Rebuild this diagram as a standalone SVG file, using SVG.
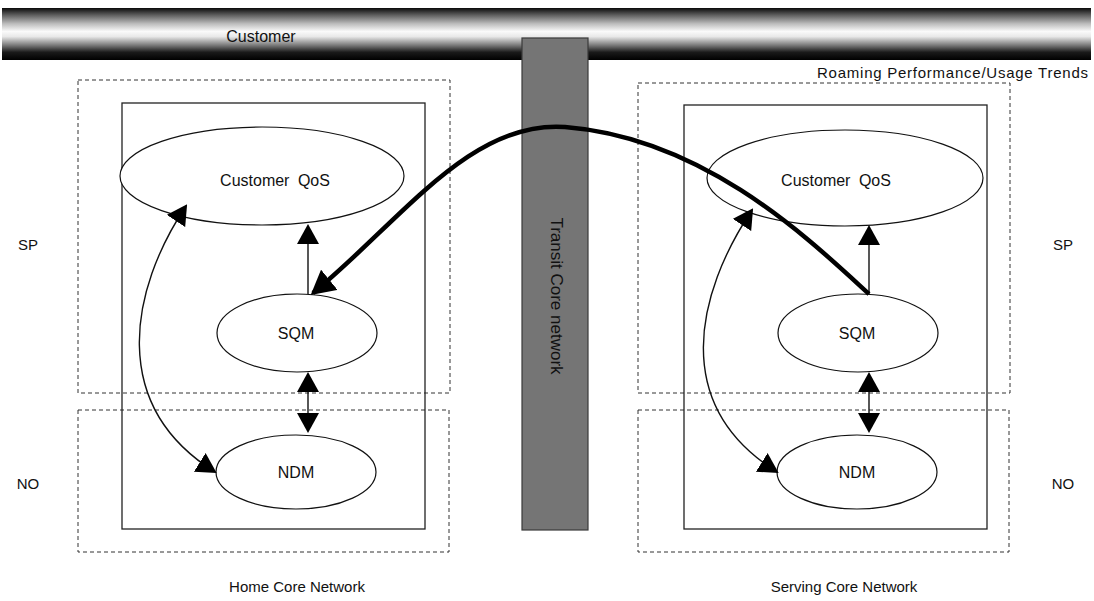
<svg xmlns="http://www.w3.org/2000/svg" width="1094" height="601" viewBox="0 0 1094 601">
<style>
text{font-family:"Liberation Sans",Arial,sans-serif;fill:#111}
.lbl{font-size:16px;text-anchor:middle;word-spacing:4px}
.side{font-size:15px;text-anchor:middle}
.dash{fill:none;stroke:#333;stroke-width:1;stroke-dasharray:4 3}
.box{fill:none;stroke:#222;stroke-width:1.3}
.ell{fill:#fff;stroke:#111;stroke-width:1.2}
.thin{fill:none;stroke:#111;stroke-width:1.4}
.thick{fill:none;stroke:#000;stroke-width:4.5}
</style>
<defs>
<linearGradient id="barG" x1="0" y1="0" x2="0" y2="1">
<stop offset="0" stop-color="#0a0a0a"/>
<stop offset="0.12" stop-color="#555"/>
<stop offset="0.3" stop-color="#bbb"/>
<stop offset="0.45" stop-color="#fafafa"/>
<stop offset="0.55" stop-color="#e8e8e8"/>
<stop offset="0.72" stop-color="#777"/>
<stop offset="0.85" stop-color="#1a1a1a"/>
<stop offset="1" stop-color="#000"/>
</linearGradient>
<marker id="ah" markerUnits="userSpaceOnUse" markerWidth="20" markerHeight="22" refX="18" refY="11" orient="auto-start-reverse" viewBox="0 0 20 22">
<path d="M0,0 L20,11 L0,22 Z" fill="#000"/>
</marker>
<marker id="ahBig" markerUnits="userSpaceOnUse" markerWidth="24" markerHeight="26" refX="21" refY="13" orient="auto" viewBox="0 0 24 26">
<path d="M0,0 L24,13 L0,26 Z" fill="#000"/>
</marker>
</defs>
<rect width="1094" height="601" fill="#fff"/>

<g id="customer-bar">
<rect x="2" y="8" width="1089" height="52" fill="url(#barG)"/>
<text x="261" y="42" font-size="16" text-anchor="middle">Customer</text>
</g>

<g id="transit-core">
<rect x="522" y="38" width="66" height="492" fill="#757575" stroke="#3a3a3a" stroke-width="1.2"/>
<text transform="translate(551,296) rotate(90)" font-size="17" text-anchor="middle" fill="#1a1a1a">Transit Core network</text>
</g>

<g id="trend-label">
<text x="1088" y="78" font-size="15" text-anchor="end" textLength="271" lengthAdjust="spacing">Roaming Performance/Usage Trends</text>
</g>

<g id="home-sp">
<rect class="dash" x="78" y="80" width="372" height="313"/>
</g>
<g id="home-no">
<rect class="dash" x="78" y="410" width="371" height="142"/>
</g>
<g id="home-core">
<rect class="box" x="122" y="103" width="303" height="426"/>
<text class="side" x="297" y="592">Home Core Network</text>
</g>
<g id="home-qos">
<ellipse class="ell" cx="262" cy="176" rx="142" ry="49"/>
<text class="lbl" x="275" y="186">Customer QoS</text>
</g>
<g id="home-sqm">
<ellipse class="ell" cx="297" cy="333" rx="80" ry="39"/>
<text class="lbl" x="296" y="339">SQM</text>
</g>
<g id="home-ndm">
<ellipse class="ell" cx="296" cy="472" rx="80" ry="37"/>
<text class="lbl" x="296" y="478">NDM</text>
</g>

<g id="serv-sp">
<rect class="dash" x="638" y="83" width="372" height="310"/>
</g>
<g id="serv-no">
<rect class="dash" x="638" y="410" width="371" height="142"/>
</g>
<g id="serv-core">
<rect class="box" x="684" y="105" width="303" height="424"/>
<text class="side" x="844" y="592">Serving Core Network</text>
</g>
<g id="serv-qos">
<ellipse class="ell" cx="845" cy="178" rx="138" ry="48"/>
<text class="lbl" x="836" y="186">Customer QoS</text>
</g>
<g id="serv-sqm">
<ellipse class="ell" cx="858" cy="333" rx="80" ry="39"/>
<text class="lbl" x="857" y="339">SQM</text>
</g>
<g id="serv-ndm">
<ellipse class="ell" cx="857" cy="472" rx="80" ry="37"/>
<text class="lbl" x="857" y="478">NDM</text>
</g>

<g id="layer-labels">
<text class="side" x="28" y="250">SP</text>
<text class="side" x="28" y="489">NO</text>
<text class="side" x="1063" y="250">SP</text>
<text class="side" x="1063" y="489">NO</text>
</g>

<g id="connectors">
<path class="thin" d="M308,294 L308,226" marker-end="url(#ah)"/>
<path class="thin" d="M308,374 L308,431" marker-start="url(#ah)" marker-end="url(#ah)"/>
<path class="thin" d="M186,206 C130,290 108,405 215,472" marker-start="url(#ah)" marker-end="url(#ah)"/>
<path class="thin" d="M869,294 L869,227" marker-end="url(#ah)"/>
<path class="thin" d="M869,374 L869,431" marker-start="url(#ah)" marker-end="url(#ah)"/>
<path class="thin" d="M752,210 C696,294 670,405 777,472" marker-start="url(#ah)" marker-end="url(#ah)"/>
<path class="thick" d="M869,294 C810,240 705,138 565,127 C470,120 400,222 313,293" marker-end="url(#ahBig)"/>
</g>
</svg>
